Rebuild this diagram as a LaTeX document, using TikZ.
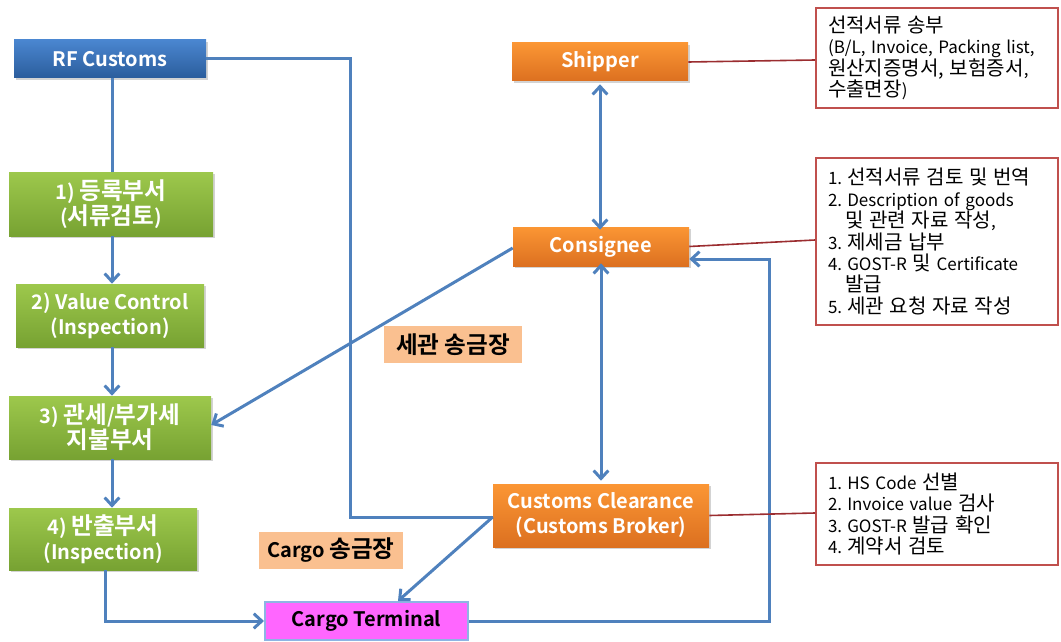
\documentclass[tikz,border=0pt]{standalone}
\usepackage{fontspec}
\setmainfont{Noto Sans CJK KR}[BoldFont={* Bold}]
\newfontfamily\krfont{Noto Sans CJK KR}[Scale=1.18, BoldFont={* Bold}]
\newcommand\kr[1]{{\krfont #1}}
\usetikzlibrary{arrows.meta,shadows,calc}
\definecolor{bluetop}{HTML}{4A86D0}
\definecolor{bluebot}{HTML}{2B5D9C}
\definecolor{greentop}{HTML}{9DC84C}
\definecolor{greenbot}{HTML}{77A232}
\definecolor{orangetop}{HTML}{FB9634}
\definecolor{orangebot}{HTML}{DC7020}
\definecolor{connblue}{HTML}{4F81BD}
\definecolor{notered}{HTML}{C0504D}
\definecolor{linered}{HTML}{9B2D30}
\definecolor{labelfill}{HTML}{FAC090}
\definecolor{magentafill}{HTML}{FF66FF}
\definecolor{ctborder}{HTML}{8EB4E3}
\newcommand\pxu[1]{#1*0.75pt}
\newcommand\nsp{\hspace{0.3em}}
\tikzset{
  box/.style={inner sep=0pt, align=center, font=\bfseries\fontsize{15pt}{18.75pt}\selectfont, text=white,
    drop shadow={shadow xshift=1.5pt, shadow yshift=-1.5pt, opacity=0.35}},
  bluebox/.style={box, top color=bluetop, bottom color=bluebot},
  greenbox/.style={box, top color=greentop, bottom color=greenbot},
  orangebox/.style={box, top color=orangetop, bottom color=orangebot},
  ctbox/.style={inner sep=0pt, align=center, font=\bfseries\fontsize{15pt}{18.75pt}\selectfont, fill=magentafill, draw=ctborder, line width=1.5pt},
  lbl/.style={inner sep=0pt, fill=labelfill, font=\bfseries\fontsize{15pt}{18.75pt}\selectfont},
  note/.style={draw=notered, line width=1.5pt, fill=white, inner ysep=0pt, inner xsep=\pxu{12}, align=left,
    font=\fontsize{12.75pt}{16.1pt}\selectfont},
  conn/.style={draw=connblue, line width=2.25pt},
  arr/.style={conn, -{Straight Barb[length=6pt, width=11pt, line width=2.25pt]}},
  darr/.style={conn, {Straight Barb[length=6pt, width=11pt, line width=2.25pt]}-{Straight Barb[length=6pt, width=11pt, line width=2.25pt]}},
  redline/.style={draw=linered, line width=1.2pt},
}
\begin{document}
\begin{tikzpicture}[x=0.75pt, y=-0.75pt]
\useasboundingbox (0,0) rectangle (1061,642);
% nodes
\node[bluebox, minimum width=\pxu{192}, minimum height=\pxu{38}] (rf) at (110,59) {RF Customs};
\node[greenbox, minimum width=\pxu{204}, minimum height=\pxu{64}] (d1) at (111,204) {1) \kr{등록부서}\\(\kr{서류검토})};
\node[greenbox, minimum width=\pxu{188}, minimum height=\pxu{63}] (d2) at (110,315.5) {2) Value Control\\(Inspection)};
\node[greenbox, minimum width=\pxu{202}, minimum height=\pxu{63}] (d3) at (110,427.5) {3) \kr{관세}/\kr{부가세}\\\kr{지불부서}};
\node[greenbox, minimum width=\pxu{188}, minimum height=\pxu{62}] (d4) at (103,539) {4) \kr{반출부서}\\(Inspection)};
\node[ctbox, minimum width=\pxu{203}, minimum height=\pxu{38}] (ct) at (366.5,621) {Cargo Terminal};
\node[orangebox, minimum width=\pxu{176}, minimum height=\pxu{38}] (sh) at (600,62) {Shipper};
\node[orangebox, minimum width=\pxu{176}, minimum height=\pxu{39}] (co) at (601,246.5) {Consignee};
\node[orangebox, minimum width=\pxu{216}, minimum height=\pxu{63}] (cc) at (601,515.5) {Customs Clearance\\(Customs Broker)};
\node[lbl, minimum width=\pxu{138}, minimum height=\pxu{37}] (l1) at (453,344.5) {\kr{세관 송금장}};
\node[lbl, minimum width=\pxu{144}, minimum height=\pxu{37}] (l2) at (331,550.5) {Cargo \kr{송금장}};
\node[note, text width=\pxu{218}, minimum height=\pxu{100}] (n1) at (937,58)
  {\kr{선적서류 송부}\\(B/L, Invoice, Packing list,\\\kr{원산지증명서, 보험증서},\\\kr{수출면장})};
\node[note, text width=\pxu{218}, minimum height=\pxu{167}] (n2) at (937,241.5)
  {1.\nsp\kr{선적서류 검토 및 번역}\\2.\nsp Description of goods\\\hspace*{1em}\kr{및 관련 자료 작성},\\3.\nsp\kr{제세금 납부}\\4.\nsp GOST-R \kr{및} Certificate\\\hspace*{1em}\kr{발급}\\5.\nsp\kr{세관 요청 자료 작성}};
\node[note, text width=\pxu{218}, minimum height=\pxu{102}] (n3) at (937,514)
  {1.\nsp HS Code \kr{선별}\\2.\nsp Invoice value \kr{검사}\\3.\nsp GOST-R \kr{발급 확인}\\4.\nsp\kr{계약서 검토}};
% blue connectors
\draw[conn] ([xshift=\pxu{2}]rf.south) -- ([xshift=\pxu{2}]rf.south |- d1.north);
\draw[arr] ([xshift=\pxu{1}]d1.south) -- ([xshift=\pxu{1}]d1.south |- d2.north);
\draw[arr] ([xshift=\pxu{2}]d2.south) -- ([xshift=\pxu{2}]d2.south |- d3.north);
\draw[arr] ([xshift=\pxu{2}]d3.south) -- ([xshift=\pxu{2}]d3.south |- d4.north);
\draw[arr] ([xshift=\pxu{2}]d4.south) |- (ct.west);
\draw[conn] (rf.east) -- ++(144,0) |- ($(cc.west)+(0,1.5)$);
\draw[arr] ($(co.west)+(0,1.5)$) -- ($(d3.east)+(0,-2.5)$);
\draw[darr] ([yshift=-\pxu{3}]sh.south) -- ([yshift=-\pxu{3}]sh.south |- co.north);
\draw[darr] ([yshift=\pxu{3}]co.south) -- ([yshift=\pxu{3}]co.south |- cc.north);
\draw[arr] ($(cc.west)+(0,1.5)$) -- ($(ct.north)+(31.5,0)$);
\draw[arr] (ct.east) -- ++(300,0) |- ($(co.east)+(0,12.5)$);
% red connectors
\draw[redline] (sh.east) -- ($(n1.west)+(0,2)$);
\draw[redline] (co.east) -- ($(n2.west)+(0,-1.5)$);
\draw[redline] (cc.east) -- ($(n3.west)+(0,-1)$);
\end{tikzpicture}
\end{document}
